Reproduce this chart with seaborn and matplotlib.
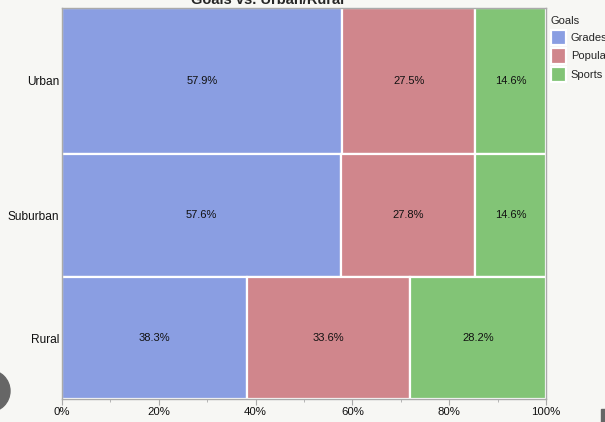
import numpy as np
import matplotlib
matplotlib.use("Agg")
import matplotlib.pyplot as plt
import matplotlib.ticker as mticker
from matplotlib.patches import Circle, Rectangle
import seaborn as sns

sns.set_style("white")
plt.rcParams['font.family'] = ['Liberation Sans', 'DejaVu Sans']

# counts per area (rows) and goal (columns)
areas = ['Urban', 'Suburban', 'Rural']
goals = ['Grades', 'Popular', 'Sports']
grades = [103, 87, 57]
popular = [49, 42, 50]
sports = [26, 22, 42]
goal_colors = ['#8a9ee2', '#d0868c', '#82c476']

counts = np.array([grades, popular, sports]).T
row_tot = counts.sum(axis=1)
shares = counts / row_tot[:, None] * 100
heights = row_tot / row_tot.sum()

bg = '#f7f7f4'
fig = plt.figure(figsize=(6.05, 4.22), dpi=100, facecolor=bg)
ax = fig.add_axes([62 / 605, 1 - 399 / 422, 484 / 605, 391 / 422])
ax.set_facecolor(bg)

# rows from top (Urban) to bottom (Rural)
tops = 1 - np.concatenate([[0], np.cumsum(heights)[:-1]])
centers = tops - heights / 2

for j, g in enumerate(goals):
    left = shares[:, :j].sum(axis=1)
    ax.barh(centers, shares[:, j], left=left, height=heights, color=goal_colors[j],
            edgecolor='white', linewidth=1.6, label=g)
    for i in range(len(areas)):
        ax.text(left[i] + shares[i, j] / 2, centers[i], f'{shares[i, j]:.1f}%',
                ha='center', va='center', fontsize=8, color='#111111')

ax.set_xlim(0, 100)
ax.set_ylim(0, 1)
ax.set_yticks(centers)
ax.set_yticklabels(areas, fontsize=8.6, color='#111111')
ax.tick_params(axis='y', length=0, pad=2)
ax.xaxis.set_major_locator(mticker.MultipleLocator(20))
ax.xaxis.set_minor_locator(mticker.MultipleLocator(10))
ax.xaxis.set_major_formatter(mticker.FuncFormatter(lambda v, p: f'{v:.0f}%'))
ax.tick_params(axis='x', which='major', length=4, color='#aaaaaa', labelsize=8.2,
               labelcolor='#111111', pad=2, bottom=True)
ax.tick_params(axis='x', which='minor', length=2.5, color='#aaaaaa', bottom=True)
for s in ax.spines.values():
    s.set_color('#aaaaaa')
    s.set_linewidth(1.0)

ax.set_ylabel('Urban/Rural', fontsize=8.6)
ax.yaxis.set_label_coords(-0.128, 0.5)

fig.text(268 / 605, 1 - 4 / 422, 'Goals vs. Urban/Rural', ha='center', va='baseline',
         fontsize=10.5, fontweight='bold')

leg = ax.legend(title='Goals', loc='upper left', bbox_to_anchor=(0.994, 0.999), frameon=False,
                fontsize=8, title_fontsize=8, handlelength=1.35, handleheight=1.75,
                handletextpad=0.45, labelspacing=0.3, borderaxespad=0.3, alignment='left')

# screen artifacts
fig.patches.append(Circle((-11, 422 - 391), 21, transform=None, color='#666666', zorder=5))
fig.patches.append(Rectangle((601, 0), 4, 13, transform=None, color='#666666', zorder=5))

fig.savefig('out.png', dpi=100, facecolor=bg)
